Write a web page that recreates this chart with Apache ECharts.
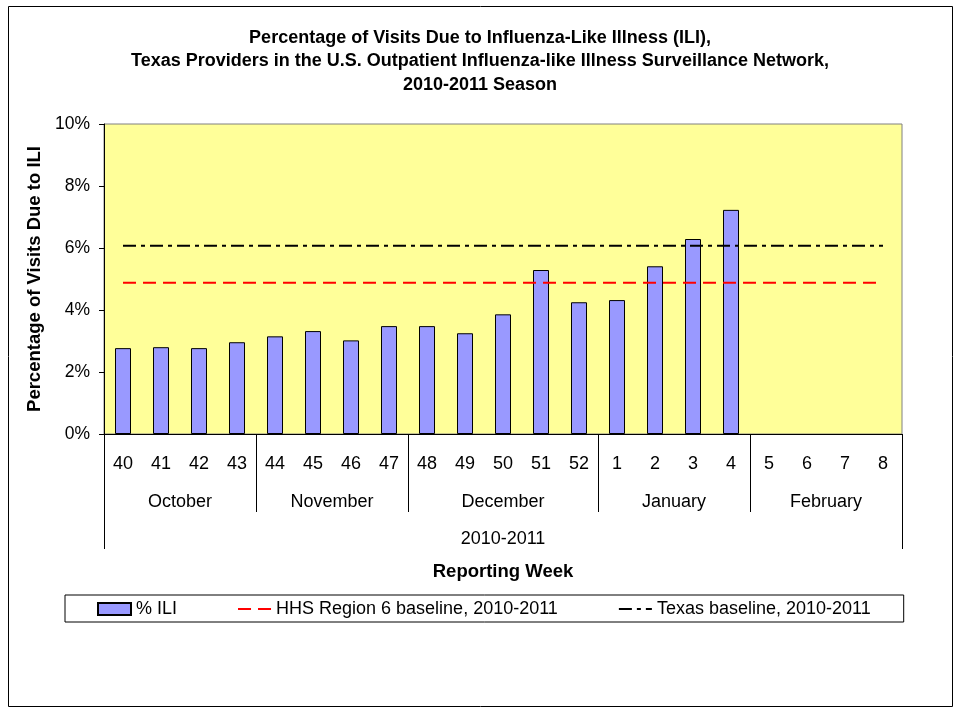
<!DOCTYPE html>
<html>
<head>
<meta charset="utf-8">
<script src="https://cdn.jsdelivr.net/npm/echarts@6/dist/echarts.min.js"></script>
<style>
  html, body { margin: 0; padding: 0; background: #fff; }
  #main { width: 960px; height: 713px; }
</style>
</head>
<body>
<div id="main"></div>
<script>
var weeks = ['40', '41', '42', '43', '44', '45', '46', '47', '48', '49', '50', '51', '52',
  '1', '2', '3', '4', '5', '6', '7', '8'];
// % ILI, weeks 5-8 not reported yet
var iliPct = [2.77, 2.80, 2.77, 2.96, 3.15, 3.32, 3.02, 3.48, 3.48, 3.25, 3.86, 5.29, 4.25,
  4.32, 5.41, 6.29, 7.23, null, null, null, null];
var hhsBaseline = 4.88;
var texasBaseline = 6.07;
var months = ['October', 'November', 'December', 'January', 'February'];
var monthWeeks = [4, 4, 5, 4, 4];
var seasonLabel = '2010-2011';

var FONT = 'Liberation Sans, Arial, sans-serif';
var FS = 18;

// half-week positions for the second and third category rows
var nHalf = weeks.length * 2 + 1;
var monthRow = [];
var monthCuts = [];
var yearRow = [];
for (var i = 0; i < nHalf; i++) { monthRow.push(''); yearRow.push(''); }
var pos = 0;
for (var m = 0; m < months.length; m++) {
  monthRow[pos * 2 + monthWeeks[m]] = months[m];
  pos += monthWeeks[m];
  if (m < months.length - 1) monthCuts.push(pos * 2);
}
yearRow[weeks.length] = seasonLabel;

function fill(v) { return weeks.map(function () { return v; }); }

var chart = echarts.init(document.getElementById('main'));
chart.setOption({
  backgroundColor: '#fff',
  animation: false,
  textStyle: { fontFamily: FONT },
  title: {
    text: 'Percentage of Visits Due to Influenza-Like Illness (ILI),\nTexas Providers in the U.S. Outpatient Influenza-like Illness Surveillance Network,\n2010-2011 Season',
    left: 'center',
    top: 21,
    textStyle: { fontFamily: FONT, fontSize: 18, fontWeight: 'bold', color: '#000', lineHeight: 23.5 }
  },
  graphic: [{
    type: 'rect',
    shape: { x: 8.5, y: 6.5, width: 944, height: 700 },
    style: { fill: 'none', stroke: '#000', lineWidth: 1 },
    silent: true
  }],
  legend: {
    left: 65,
    top: 595,
    padding: [5, 33, 4, 32],
    itemGap: 60,
    itemWidth: 33,
    itemHeight: 12,
    borderColor: '#000',
    borderWidth: 1,
    textStyle: { fontFamily: FONT, fontSize: FS, color: '#000' },
    data: [
      { name: '% ILI', icon: 'rect' },
      { name: 'HHS Region 6 baseline, 2010-2011' },
      { name: 'Texas baseline, 2010-2011' }
    ]
  },
  grid: {
    left: 104, right: 58, top: 124, bottom: 279,
    show: true,
    backgroundColor: '#FFFF99',
    borderColor: '#808080',
    borderWidth: 1
  },
  xAxis: [{
    type: 'category',
    position: 'bottom',
    data: weeks,
    axisLine: { onZero: false, lineStyle: { color: '#000', width: 1 } },
    axisTick: { length: 39, interval: 0, lineStyle: { color: '#000' } },
    axisLabel: { interval: 0, margin: 21, fontSize: FS, color: '#000', fontFamily: FONT },
    splitLine: { show: false }
  }, {
    type: 'category',
    position: 'bottom',
    boundaryGap: false,
    data: monthRow,
    axisLine: { show: false, onZero: false },
    axisTick: {
      length: 78,
      interval: function (idx) { return monthCuts.indexOf(idx) >= 0; },
      lineStyle: { color: '#000' }
    },
    axisLabel: { interval: 0, margin: 59, fontSize: FS, color: '#000', fontFamily: FONT },
    splitLine: { show: false }
  }, {
    type: 'category',
    position: 'bottom',
    boundaryGap: false,
    data: yearRow,
    name: 'Reporting Week',
    nameLocation: 'middle',
    nameGap: 128,
    nameTextStyle: { fontFamily: FONT, fontSize: 18.5, fontWeight: 'bold', color: '#000' },
    axisLine: { show: false, onZero: false },
    axisTick: {
      length: 115,
      interval: function (idx) { return idx === 0 || idx === nHalf - 1; },
      lineStyle: { color: '#000' }
    },
    axisLabel: { interval: 0, margin: 96, fontSize: FS, color: '#000', fontFamily: FONT },
    splitLine: { show: false }
  }],
  yAxis: {
    type: 'value',
    min: 0,
    max: 10,
    interval: 2,
    name: 'Percentage of Visits Due to ILI',
    nameLocation: 'middle',
    nameGap: 59,
    nameTextStyle: { fontFamily: FONT, fontSize: 18.5, fontWeight: 'bold', color: '#000' },
    axisLine: { show: true, lineStyle: { color: '#000' } },
    axisTick: { show: true, length: 5, lineStyle: { color: '#000' } },
    axisLabel: { formatter: '{value}%', margin: 14, fontSize: 17.5, color: '#000', fontFamily: FONT },
    splitLine: { show: false }
  },
  series: [{
    name: '% ILI',
    type: 'bar',
    data: iliPct,
    barWidth: 16,
    itemStyle: { color: '#9999FF', borderColor: '#000', borderWidth: 1 }
  }, {
    name: 'HHS Region 6 baseline, 2010-2011',
    type: 'line',
    data: fill(hhsBaseline),
    symbol: 'circle',
    showSymbol: false,
    itemStyle: { color: 'rgba(0,0,0,0)', borderWidth: 0 },
    lineStyle: { color: '#FF0000', width: 2, type: [13, 7] }
  }, {
    name: 'Texas baseline, 2010-2011',
    type: 'line',
    data: fill(texasBaseline),
    symbol: 'circle',
    showSymbol: false,
    itemStyle: { color: 'rgba(0,0,0,0)', borderWidth: 0 },
    lineStyle: { color: '#000', width: 2, type: [13, 5, 4, 5] }
  }]
});
</script>
</body>
</html>
